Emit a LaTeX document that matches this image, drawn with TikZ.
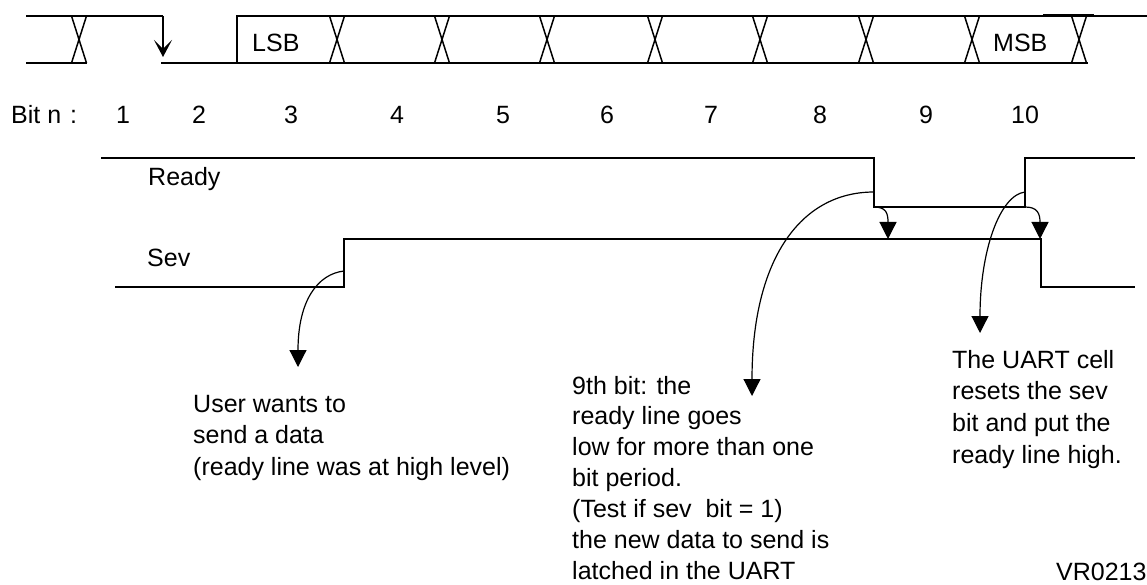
\documentclass[tikz,border=0pt]{standalone}
\usepackage{fontspec}
\setmainfont{Liberation Sans}
\usetikzlibrary{arrows.meta}
\begin{document}
\begin{tikzpicture}[x=1pt,y=-1pt,
  sig/.style={line width=1.5pt},
  txt/.style={anchor=base west, inner sep=0pt, font=\fontsize{25}{31}\selectfont},
  num/.style={anchor=base, inner sep=0pt, font=\fontsize{25}{31}\selectfont},
  tri/.style={line width=1.2pt, -{Triangle[length=17pt,width=17pt]}},
  fall/.style={line width=1.5pt, -{Stealth[length=17pt,width=18pt,inset=9pt]}}]
\useasboundingbox (0,0) rectangle (1147,585);
\clip (0,0) rectangle (1147,585);
% serial frame
\draw[sig] (26,16) -- (163,16);
\draw[fall] (163,16) -- (163,57);
\draw[sig] (26,63) -- (87,63);
\draw[sig] (161,63) -- (237,63) -- (237,16) -- (1147,16);
\draw[sig] (237,63) -- (1088,63);
\foreach \c in {79,337,442,547,655,760,866,972,1079}
  \draw[sig] (\c-7.5,16) -- (\c+7.5,63) (\c+7.5,16) -- (\c-7.5,63);
\draw[line width=2.5pt] (1043,15) -- (1094,15);
\node[txt] (lsb) at (252,52) {LSB};
\node[txt] (msb) at (993,52) {MSB};
% bit numbers
\node[txt] (bitn) at (11,124) {Bit n\kern2pt\ :};
\foreach \x [count=\i] in {123,199,291,397,503,607,711,820,926,1025}
  \node[num] (b\i) at (\x,124) {\i};
% Ready and Sev
\node[txt] (ready) at (148,186) {Ready};
\node[txt] (sev) at (147,266) {Sev};
\draw[sig] (101,158) -- (874,158) -- (874,207) -- (1025,207) -- (1025,158) -- (1135,158);
\draw[sig] (115,287) -- (344,287) -- (344,239) -- (1041,239) -- (1041,287) -- (1135,287);
% coordinates
\coordinate (sevrise) at (344,271);
\coordinate (userarr) at (298,367);
\coordinate (rdyfall) at (874,192);
\coordinate (ninearr) at (752,396);
\coordinate (rdylow) at (874,207);
\coordinate (sevhit) at (888,239);
\coordinate (rdyrise) at (1025,192);
\coordinate (uartarr) at (980,333);
\coordinate (rdylow2) at (1025,207);
\coordinate (sevfall) at (1040,239);
\draw[tri] (sevrise) .. controls (318,274) and (298,300) .. (userarr);
\draw[tri] (rdyfall) .. controls (800,192) and (752,260) .. (ninearr);
\draw[tri] (rdylow) .. controls (886,207) and (888,213) .. (sevhit);
\draw[tri] (rdyrise) .. controls (1000,195) and (980,250) .. (uartarr);
\draw[tri] (rdylow2) .. controls (1037,207) and (1040,213) .. (sevfall);
% notes
\foreach \t [count=\i] in {User wants to, send a data, (ready line was at high level)}
  \node[txt] (user\i) at (193,{412+31.5*(\i-1)}) {\t};
\foreach \t [count=\i] in {9th bit: the, ready line goes, low for more than one, bit period., (Test if sev~~bit = 1), the new data to send is, latched in the UART}
  \node[txt] (nine\i) at (572,{394+30.9*(\i-1)}) {\t};
\foreach \t [count=\i] in {The UART cell, resets the sev, bit and put the, ready line high.}
  \node[txt] (uart\i) at (952,{368+31.7*(\i-1)}) {\t};
\node[txt] (ref) at (1056,580) {VR02135};
\end{tikzpicture}
\end{document}
